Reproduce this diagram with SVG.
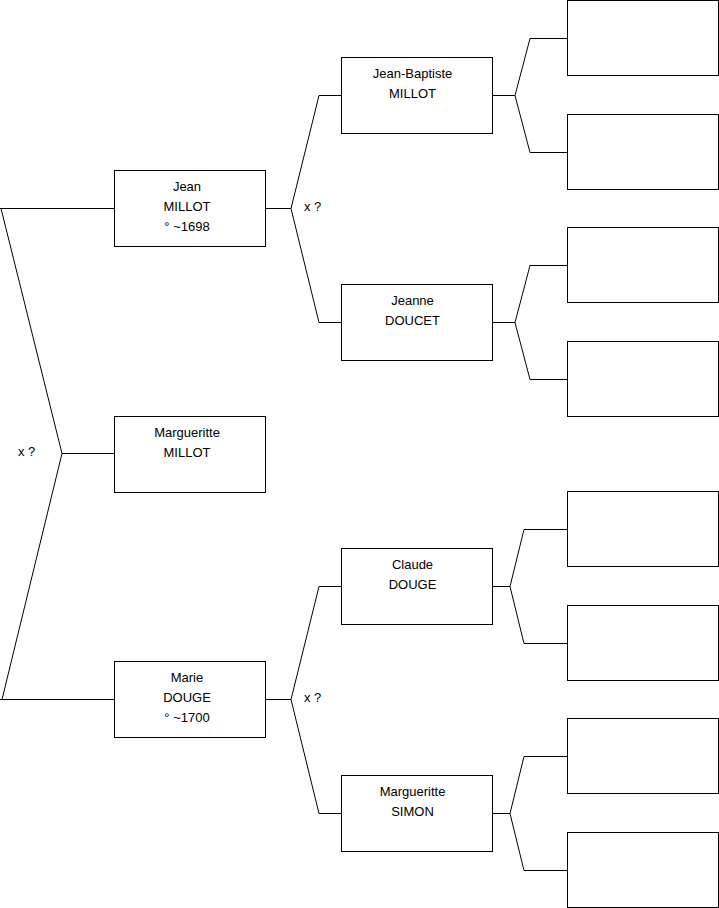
<svg xmlns="http://www.w3.org/2000/svg" width="719" height="908" viewBox="0 0 719 908">
<style>
.box{fill:#fff;stroke:#000;stroke-width:1}
.ln{fill:none;stroke:#000;stroke-width:1}
text{font-family:"Liberation Sans",Arial,sans-serif;font-size:13px;fill:#000;text-anchor:middle}
.lbl{text-anchor:start}
</style>
<rect width="719" height="908" fill="#fff"/>
<g id="connectors">
<path class="ln" d="M0,208.5 H114.5 M1,208.5 L62,453.5 L2,699.5 M62,453.5 H114.5 M0,699.5 H114.5"/>
<path class="ln" d="M265.5,208.5 H291 M319,95.5 L291,208.5 L319,322.5 M319,95.5 H341.5 M319,322.5 H341.5"/>
<path class="ln" d="M265.5,699.5 H291 M319,586.5 L291,699.5 L319,813.5 M319,586.5 H341.5 M319,813.5 H341.5"/>
<path class="ln" d="M492.5,95.5 H515 M530,38.5 L515,95.5 L530,152.5 M530,38.5 H567.5 M530,152.5 H567.5"/>
<path class="ln" d="M492.5,322.5 H515 M530,265.5 L515,322.5 L530,379.5 M530,265.5 H567.5 M530,379.5 H567.5"/>
<path class="ln" d="M492.5,586.5 H510 M524,529.5 L510,586.5 L524,643.5 M524,529.5 H567.5 M524,643.5 H567.5"/>
<path class="ln" d="M492.5,813.5 H510 M524,756.5 L510,813.5 L524,870.5 M524,756.5 H567.5 M524,870.5 H567.5"/>
<text class="lbl" x="18" y="456">x ?</text>
<text class="lbl" x="304" y="211">x ?</text>
<text class="lbl" x="304" y="702">x ?</text>
</g>
<g id="jean"><rect class="box" x="114.5" y="170.5" width="151" height="76"/><text x="187" y="191">Jean</text><text x="187" y="211">MILLOT</text><text x="187" y="231">° ~1698</text></g>
<g id="marguerite-millot"><rect class="box" x="114.5" y="416.5" width="151" height="76"/><text x="187" y="437">Margueritte</text><text x="187" y="457">MILLOT</text></g>
<g id="marie"><rect class="box" x="114.5" y="661.5" width="151" height="76"/><text x="187" y="682">Marie</text><text x="187" y="702">DOUGE</text><text x="187" y="722">° ~1700</text></g>
<g id="jean-baptiste"><rect class="box" x="341.5" y="57.5" width="151" height="76"/><text x="412.5" y="78">Jean-Baptiste</text><text x="412.5" y="98">MILLOT</text></g>
<g id="jeanne"><rect class="box" x="341.5" y="284.5" width="151" height="76"/><text x="412.5" y="305">Jeanne</text><text x="412.5" y="325">DOUCET</text></g>
<g id="claude"><rect class="box" x="341.5" y="548.5" width="151" height="76"/><text x="412.5" y="569">Claude</text><text x="412.5" y="589">DOUGE</text></g>
<g id="marguerite-simon"><rect class="box" x="341.5" y="775.5" width="151" height="76"/><text x="412.5" y="796">Margueritte</text><text x="412.5" y="816">SIMON</text></g>
<g id="p1"><rect class="box" x="567.5" y="0.5" width="151" height="75"/></g>
<g id="p2"><rect class="box" x="567.5" y="114.5" width="151" height="75"/></g>
<g id="p3"><rect class="box" x="567.5" y="227.5" width="151" height="75"/></g>
<g id="p4"><rect class="box" x="567.5" y="341.5" width="151" height="75"/></g>
<g id="p5"><rect class="box" x="567.5" y="491.5" width="151" height="75"/></g>
<g id="p6"><rect class="box" x="567.5" y="605.5" width="151" height="75"/></g>
<g id="p7"><rect class="box" x="567.5" y="718.5" width="151" height="75"/></g>
<g id="p8"><rect class="box" x="567.5" y="832.5" width="151" height="75"/></g>
</svg>
